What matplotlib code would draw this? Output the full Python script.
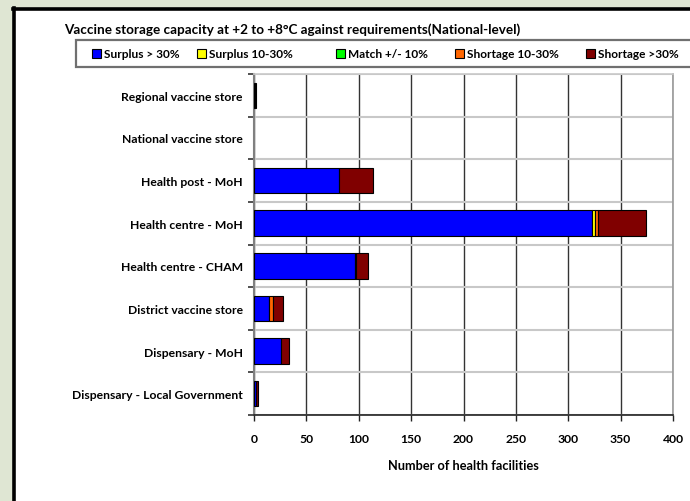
import matplotlib
matplotlib.use("Agg")
import matplotlib.pyplot as plt
from matplotlib.patches import Rectangle
import numpy as np

plt.rcParams['font.family'] = ['Lato', 'DejaVu Sans']
plt.rcParams['font.weight'] = 'bold'

categories = ["Regional vaccine store", "National vaccine store", "Health post - MoH",
              "Health centre - MoH", "Health centre - CHAM", "District vaccine store",
              "Dispensary - MoH", "Dispensary - Local Government"]
surplus_gt30 = [1, 0, 81, 323, 96, 14, 26, 2]
surplus_10_30 = [0, 0, 0, 3, 0, 0, 0, 0]
match_10 = [0, 0, 0, 0, 0, 0, 0, 0]
shortage_10_30 = [0, 0, 0, 2, 1, 4, 0, 0]
shortage_gt30 = [1, 0, 33, 46, 12, 10, 7, 2]
series_names = ["Surplus > 30%", "Surplus 10-30%", "Match +/- 10%", "Shortage 10-30%", "Shortage >30%"]
series_colors = ["#0000ff", "#ffff00", "#00ff00", "#ff6600", "#800000"]
xticks = [0, 50, 100, 150, 200, 250, 300, 350, 400]

W, H = 690, 502
fig = plt.figure(figsize=(W / 100, H / 100), dpi=100)
fig.patch.set_facecolor("#dfe6d3")

# white panel with black frame
fig.patches.append(Rectangle((13 / W, 0), 1.0, 1 - 9 / H, transform=fig.transFigure,
                             facecolor="white", edgecolor="none", zorder=0))
fig.add_artist(plt.Line2D([13.5 / W, 13.5 / W], [0, 1 - 8.5 / H], transform=fig.transFigure,
                          color="black", lw=2.6))
fig.add_artist(plt.Line2D([12.5 / W, 1.0], [1 - 9.5 / H, 1 - 9.5 / H], transform=fig.transFigure,
                          color="black", lw=2.6))

ax = fig.add_axes([254 / W, 1 - 416 / H, (673 - 254) / W, (416 - 75) / H])
ax.set_zorder(5)
ax.set_facecolor("white")

series = [surplus_gt30, surplus_10_30, match_10, shortage_10_30, shortage_gt30]
y = np.arange(len(categories))
left = np.zeros(len(categories))
for vals, col in zip(series, series_colors):
    v = np.array(vals, dtype=float)
    mask = v > 0
    ax.barh(y[mask], v[mask], left=left[mask], height=0.6, color=col,
            edgecolor="black", linewidth=0.8, zorder=3)
    left += v

ax.set_xlim(0, 400)
ax.set_ylim(len(categories) - 0.5, -0.5)
ax.set_xticks(xticks)
ax.set_xticklabels([str(t) for t in xticks], fontsize=8.7, fontweight="bold")
ax.set_yticks(y)
ax.set_yticklabels(categories, fontsize=8.7, fontweight="bold")
ax.tick_params(axis="y", which="major", length=0, pad=8)
ax.set_yticks(np.arange(-0.5, len(categories) + 0.5, 1), minor=True)
ax.tick_params(axis="y", which="minor", length=4, width=1.2, color="#333333", direction="out")
ax.tick_params(axis="x", which="major", length=4, width=1.0, color="#222222", direction="out", pad=9)

ax.grid(axis="x", color="#333333", linewidth=1.0, zorder=1)
ax.grid(axis="y", which="minor", color="#c8c8c8", linewidth=1.5, zorder=1)
ax.set_axisbelow(True)

ax.spines["left"].set_color("#808080")
ax.spines["left"].set_linewidth(1.5)
ax.spines["bottom"].set_color("#222222")
ax.spines["bottom"].set_linewidth(1.2)
ax.spines["right"].set_color("#999999")
ax.spines["right"].set_linewidth(1.2)
ax.spines["top"].set_color("#c8c8c8")
ax.spines["top"].set_linewidth(1.2)

ax.set_xlabel("Number of health facilities", fontsize=9.2, fontweight="bold", labelpad=11)

# title
fig.text(64 / W, 1 - 30 / H, "Vaccine storage capacity at +2 to +8°C against requirements(National-level)",
         fontsize=9.7, fontweight="bold", va="center", ha="left")

# legend box
fig.patches.append(Rectangle((76 / W, 1 - 68 / H), (720 - 76) / W, 27 / H, transform=fig.transFigure,
                             facecolor="white", edgecolor="#707070", linewidth=1.6, zorder=2))
leg_x = [92, 197, 336, 455, 586]
for xp, name, col in zip(leg_x, series_names, series_colors):
    fig.patches.append(Rectangle((xp / W, 1 - 59 / H), 9 / W, 9 / H, transform=fig.transFigure,
                                 facecolor=col, edgecolor="black", linewidth=0.8, zorder=3))
    fig.text((xp + 12) / W, 1 - 54.5 / H, name, fontsize=8.6, fontweight="bold",
             va="center", ha="left", zorder=4)

fig.savefig("out.png", dpi=100, facecolor=fig.get_facecolor())
